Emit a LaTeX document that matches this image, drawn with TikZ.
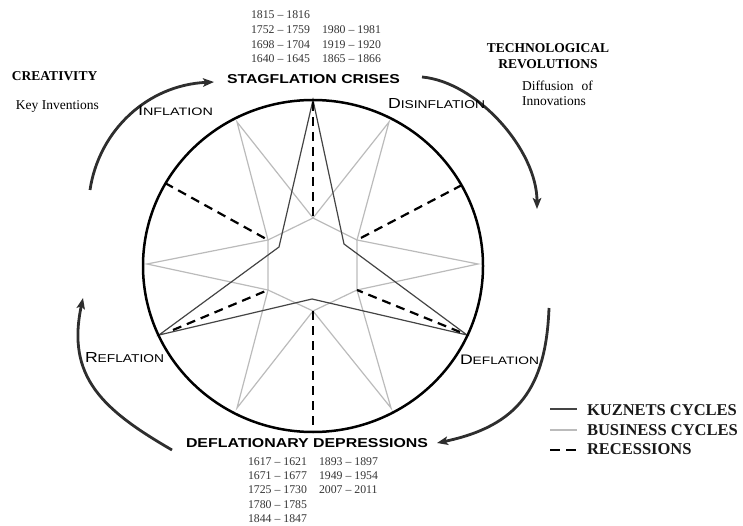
\documentclass[tikz,border=0pt]{standalone}
\usepackage{fontspec}
\setmainfont{Liberation Serif}
\newfontfamily\labelfont{Liberation Sans}
\usepackage{graphicx}
\usetikzlibrary{arrows.meta}
\definecolor{kuz}{HTML}{444444}
\definecolor{bus}{HTML}{BBBBBB}
\definecolor{arr}{HTML}{2E2E2E}
\definecolor{yr}{HTML}{333333}
\newcommand{\caplabel}[3]{\resizebox{#1}{#2}{\labelfont\fontsize{10}{12}\selectfont #3}}
\newcommand{\smc}[1]{{\fontsize{7.8}{9}\selectfont #1}}
\newcommand{\headlabel}[3]{\resizebox{#1}{#2}{\labelfont\bfseries\fontsize{10}{12}\selectfont #3}}
\begin{document}
\begin{tikzpicture}[x=1pt,y=-1pt,
  kuzline/.style={draw=kuz, line width=1.2pt},
  busline/.style={draw=bus, line width=1.2pt},
  recline/.style={draw=black, line width=2.2pt, dash pattern=on 9pt off 6pt},
  cycarrow/.style={draw=arr, line width=2.8pt, -{Stealth[length=11pt,width=8.5pt,inset=2.5pt]}},
  txt/.style={inner sep=0pt, outer sep=0pt},
  yrs/.style={txt, anchor=base west, text=yr, font=\fontsize{11.8}{14}\selectfont},
  side/.style={txt, anchor=base west, font=\fontsize{13.5}{16}\selectfont},
  sidebold/.style={txt, anchor=base west, font=\fontsize{13.5}{16}\selectfont\bfseries},
  legtxt/.style={txt, anchor=base west, text=black!90, font=\fontsize{16.5}{19}\selectfont\bfseries},
  phase/.style={txt, anchor=south west},
]
\useasboundingbox (0,0) rectangle (743,526);

% business cycles (grey six-pointed star with inner hexagon)
\coordinate (O1) at (237,122);
\coordinate (O2) at (389,122);
\coordinate (O3) at (478,264);
\coordinate (O4) at (391,408);
\coordinate (O5) at (237,408);
\coordinate (O6) at (147,264);
\coordinate (I1) at (313,218);
\coordinate (I2) at (357,240);
\coordinate (I3) at (357,290);
\coordinate (I4) at (313,311);
\coordinate (I5) at (268,290);
\coordinate (I6) at (268,240);
\draw[busline] (O1) -- (I1) -- (O2) -- (I2) -- (O3) -- (I3) -- (O4) -- (I4) -- (O5) -- (I5) -- (O6) -- (I6) -- cycle;
\draw[busline] (I1) -- (I2) -- (I3) -- (I4) -- (I5) -- (I6) -- cycle;

% Kuznets cycles (dark three-pointed star)
\coordinate (K1) at (313,100);
\coordinate (Ki1) at (344,244);
\coordinate (K2) at (467,335);
\coordinate (Ki2) at (312,299);
\coordinate (K3) at (159,335);
\coordinate (Ki3) at (279,247);
\draw[kuzline] (K1) -- (Ki1) -- (K2) -- (Ki2) -- (K3) -- (Ki3) -- cycle;

% recessions
\coordinate (R1) at (313,102);
\coordinate (R2) at (165,183);
\coordinate (R3) at (462,185);
\coordinate (R4) at (173,330);
\coordinate (R5) at (460,332);
\coordinate (R6) at (313,432);
\draw[recline] (R1) -- (I1);
\draw[recline] (R2) -- (I6);
\draw[recline] (R3) -- (I2);
\draw[recline] (R4) -- (I5);
\draw[recline] (R5) -- (I3);
\draw[recline] (I4) -- (R6);

% main circle
\coordinate (C) at (313,266);
\draw[line width=2.5pt] (C) ellipse [x radius=170pt, y radius=166pt];

% cycle arrows
\coordinate (a1s) at (90,190);
\coordinate (a1e) at (214,82);
\coordinate (a2s) at (422,77);
\coordinate (a2e) at (537,209);
\coordinate (a3s) at (549,308);
\coordinate (a3e) at (437,443);
\coordinate (a4s) at (172,450);
\coordinate (a4e) at (83,298);
\draw[cycarrow] (a1s) .. controls (99,130) and (148,85) .. (a1e);
\draw[cycarrow] (a2s) .. controls (477,82) and (537,150) .. (a2e);
\draw[cycarrow] (a3s) .. controls (546,388) and (518,426) .. (a3e);
\draw[cycarrow] (a4s) .. controls (103,410) and (66,377) .. (a4e);

% headings
\node[phase] (stag) at (227,84) {\headlabel{173pt}{9pt}{STAGFLATION CRISES}};
\node[phase] (depr) at (186,448) {\headlabel{242pt}{9pt}{DEFLATIONARY DEPRESSIONS}};

% phase labels
\node[phase] (infl) at (138,116) {\caplabel{75pt}{9.5pt}{I\smc{NFLATION}}};
\node[phase] (disinfl) at (388,109) {\caplabel{97pt}{10pt}{D\smc{ISINFLATION}}};
\node[phase] (defl) at (460,365) {\caplabel{79pt}{9.5pt}{D\smc{EFLATION}}};
\node[phase] (refl) at (85,363) {\caplabel{79pt}{10pt}{R\smc{EFLATION}}};

% years (top)
\node[yrs] (t11) at (251,19) {1815 – 1816};
\node[yrs] (t12) at (251,34) {1752 – 1759};
\node[yrs] (t13) at (251,48.5) {1698 – 1704};
\node[yrs] (t14) at (251,63) {1640 – 1645};
\node[yrs] (t22) at (322,34) {1980 – 1981};
\node[yrs] (t23) at (322,48.5) {1919 – 1920};
\node[yrs] (t24) at (322,63) {1865 – 1866};

% years (bottom)
\node[yrs] (b11) at (248,465) {1617 – 1621};
\node[yrs] (b12) at (248,479) {1671 – 1677};
\node[yrs] (b13) at (248,493) {1725 – 1730};
\node[yrs] (b14) at (248,508) {1780 – 1785};
\node[yrs] (b15) at (248,522) {1844 – 1847};
\node[yrs] (b21) at (319,465) {1893 – 1897};
\node[yrs] (b22) at (319,479) {1949 – 1954};
\node[yrs] (b23) at (319,493) {2007 – 2011};

% side texts
\node[sidebold] (creat) at (12,81) {CREATIVITY};
\node[side] (keyinv) at (16,110) {Key Inventions};
\node[sidebold, anchor=base] (tech1) at (548,53) {TECHNOLOGICAL};
\node[sidebold, anchor=base] (tech2) at (548,69) {REVOLUTIONS};
\node[side] (diff1) at (522,91) {Diffusion\hspace{0.6em}of};
\node[side] (diff2) at (522,106) {Innovations};

% legend
\coordinate (lk1) at (550,409);
\coordinate (lk2) at (577,409);
\coordinate (lb1) at (550,430);
\coordinate (lb2) at (577,430);
\coordinate (lr1) at (550,450);
\coordinate (lr2) at (576,450);
\draw[draw=kuz, line width=2.5pt] (lk1) -- (lk2);
\draw[draw=bus, line width=2.5pt] (lb1) -- (lb2);
\draw[recline, line width=2.5pt, dash pattern=on 10pt off 6pt] (lr1) -- (lr2);
\node[legtxt] (legk) at (587,415) {KUZNETS CYCLES};
\node[legtxt] (legb) at (587,435) {BUSINESS CYCLES};
\node[legtxt] (legr) at (587,454) {RECESSIONS};
\end{tikzpicture}
\end{document}
